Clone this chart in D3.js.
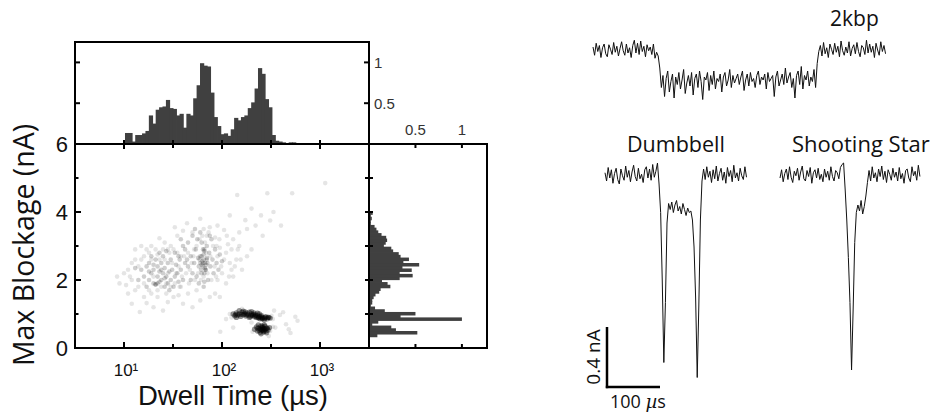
<!DOCTYPE html>
<html><head><meta charset="utf-8">
<script src="https://cdn.jsdelivr.net/npm/d3@7"></script>
<style>body{margin:0;background:#fff;} svg{display:block;}</style>
</head><body>
<svg id="c" width="936" height="415"></svg>
<script>
// ---------------- DATA ----------------
const xDomain = [3.162, 3162];            // dwell time (µs), log axis
const yDomain = [0, 6];                   // max blockage (nA)
const xMajorTicks = [10, 100, 1000];
const xMajorLabels = ['10¹', '10²', '10³'];
const xMinorTicks = [31.62, 316.2];
const yMajorTicks = [0, 2, 4, 6];
const yMinorTicks = [1, 3, 5];
const histTicks = [0.5, 1];

// top histogram (normalized counts), bins in log10(dwell)
const topHistLogStart = 1.01, topHistLogStep = 0.0348;
const topHistCounts = [0.135,0.135,0.03,0.11,0.11,0.13,0.16,0.35,0.25,0.42,0.45,0.46,0.54,0.44,0.43,0.35,0.37,0.2,0.37,0.35,0.56,0.72,0.99,0.96,0.95,0.63,0.33,0.22,0.12,0.13,0.10,0.18,0.32,0.29,0.33,0.35,0.44,0.51,0.68,0.93,0.86,0.55,0.45,0.11,0.04,0.03,0.02,0.01,0.02,0.02];

// right histogram (normalized counts), bins in blockage (nA)
const rightHistStart = 0.34, rightHistStep = 0.08;
const rightHistCounts = [0.09,0.52,0.29,0.24,0.035,0.1,1.0,0.34,0.5,0.17,0.065,0.02,0.035,0.035,0.05,0.07,0.11,0.125,0.23,0.2,0.14,0.33,0.47,0.33,0.46,0.36,0.54,0.37,0.43,0.34,0.32,0.26,0.24,0.16,0.18,0.195,0.185,0.135,0.1,0.08,0.06,0.02,0.02,0.03,0.02,0.04,0.01,0.01,0.01,0.005,0.005];

// scatter events [dwell µs, max blockage nA]
const scatterFaint = [[143,4.5],[290,4.55],[520,4.55],[1130,4.85],[173,3.76],[335,4.0],[105,3.47],[44,3.67],[23,3.23],[200,4.1],[250,3.9],[120,3.9],[90,3.6],[60,3.8],[75,3.55],[180,3.5],[400,3.6],[130,3.2],[150,3.0],[110,2.8],[260,3.3],[95,2.95],[220,3.6],[310,3.75],
[8.5,2.1],[9,1.9],[10,2.2],[11.5,2.1],[12,2.5],[13,1.7],[14.5,1.06],[17,1.32],[11,1.6],[13,2.9],[15,3.0],[12,1.3],[10.5,1.85],[16,1.5],[20,1.2],[25,1.1],[22,1.5],[32,1.5],[28,1.35],[18,2.8],[26,3.1],[35,3.3],[30,3.0],[40,1.3],[45,1.6],[50,1.2],[38,1.8],
[96,0.48],[500,0.44],[560,0.92],[390,0.97],[590,0.8],[450,0.7],[350,0.6],[420,1.05],[130,0.6],[160,1.15],[120,1.0],[110,0.85],[340,1.1],[480,0.55],[300,0.35],
[90,2.0],[100,2.2],[120,2.5],[140,2.6],[110,1.9],[85,1.6],[130,2.1],[160,2.3],[75,1.5],[200,2.9],[95,1.5],[60,1.4],[55,1.7],[180,2.7],[150,3.4],[70,3.3],[85,3.25],[50,3.4],[65,3.5],[40,3.45],[33,3.55],[28,2.9],[22,2.75],[19,2.6],[16,2.7],[14,2.4],[11,2.3],[19,1.6],[27,1.6],[36,1.55],[46,1.9],[52,2.9],[88,3.0],[115,3.05],[125,2.3],
[12,2.0],[13,2.6],[14,1.8],[15,2.6],[16,1.9],[17,2.9],[18,1.7],[19,3.0],[20,2.1],[21,2.9],[22,1.7],[23,2.6],[24,1.8],[25,2.9],[26,2.6],[27,1.9],[28,2.2],[29,2.8],[30,1.8],[31,2.5],[32,2.9],[33,1.9],[34,2.2],[35,2.8],[36,2.4],[37,1.8],[38,2.7],[39,2.1],[41,2.7],[43,2.2],[45,2.8],[47,2.3],[49,2.5],[51,2.7],[53,2.0],[55,3.0],[57,2.2],[59,3.2],[61,2.0],[63,3.3],[65,2.1],[67,3.1],[69,2.8],[71,2.2],[73,3.4],[76,2.7],[78,2.0],[81,3.0],[84,2.4],[87,2.1],[90,2.7],[94,3.2],[98,2.4],[105,2.6],[112,3.3],[118,2.1],[125,2.9],[135,2.4],[145,2.9],[155,2.6],
[150,0.95],[125,0.9],[320,0.95],[330,0.85],[200,0.75],[310,0.5],[205,0.48],[330,0.62]];
const scatterMedium = [[15,2.3],[16,2.1],[17,2.4],[18,2.0],[18,2.5],[19,2.2],[20,1.9],[20,2.3],[21,2.6],[21,1.87],[22,2.1],[22,2.4],[23,1.95],[23,2.25],[24,2.5],[24,2.0],[25,2.2],[25,2.7],[26,1.8],[26,2.35],[27,2.1],[28,2.5],[28,1.9],[29,2.25],[30,2.0],[30,2.6],[31,2.3],[32,1.8],[33,2.1],[34,2.45],[35,2.2],[36,1.95],[37,2.6],[38,2.3],[40,2.0],[17,1.8],[19,2.7],[14,2.0],[13,2.35],[42,2.5],[27,2.85],[23,2.8],[33,2.8],[20,2.45],[24,2.3],[29,1.7],[18,2.25],[26,2.05],[21,1.87],[22,1.9],
[42,2.9],[45,2.4],[45,3.1],[48,2.7],[50,2.2],[50,3.3],[52,2.5],[54,2.9],[55,2.1],[56,3.2],[58,2.4],[58,1.9],[60,2.7],[62,3.1],[62,2.2],[64,2.5],[65,1.8],[66,2.9],[68,2.3],[70,3.0],[70,2.6],[72,2.0],[74,2.8],[76,2.4],[78,3.2],[80,2.6],[82,2.2],[85,2.9],[88,2.5],[92,2.3],[95,2.75],[100,2.55],[48,2.0],[53,3.5],[60,3.4],[44,2.6],[66,1.95],[57,2.65],[75,3.3],[40,3.0],[36,2.7],[38,3.2],
[60,2.5],[62,2.7],[64,2.4],[65,2.6],[66,2.85],[67,2.5],[68,2.3],[70,2.65],[63,2.55],[61,2.3],[69,2.45],[66,2.2],[62,2.45],[65,2.75],[67,2.35],[64,2.9],[59,2.6],[71,2.5]];
const scatterDense = [[130,1.0],[135,0.95],[140,1.03],[145,0.97],[150,1.0],[155,0.93],[160,1.05],[165,0.98],[170,1.0],[175,0.94],[180,1.02],[185,0.97],[190,1.05],[195,0.92],[200,1.0],[205,0.96],[210,0.99],[215,0.92],[220,0.97],[225,0.9],[230,0.95],[235,0.88],[240,0.93],[245,0.86],[250,0.92],[255,0.88],[260,0.9],[270,0.87],[280,0.92],[290,0.86],[300,0.9],[310,0.88],[165,1.08],[200,1.07],[240,1.0],[140,0.9],[190,0.9],[270,0.82],[230,1.02],[150,1.1],
[138,0.98],[158,0.99],[178,0.98],[198,0.96],[218,0.94],[238,0.9],[258,0.86],[275,0.9],[295,0.9],[172,1.06],[212,1.03],[252,0.96],
[215,0.55],[225,0.62],[230,0.5],[240,0.58],[245,0.46],[250,0.65],[255,0.53],[260,0.6],[265,0.47],[270,0.56],[275,0.64],[280,0.5],[285,0.58],[295,0.53],[305,0.6],[250,0.42],[270,0.68],[235,0.68],[285,0.45],[260,0.52],[240,0.52],[275,0.55],[255,0.6],
[248,0.55],[262,0.56],[268,0.5],[290,0.58],[232,0.58],[258,0.64]];

// current traces, sampled every 3 µs, current change in pA
const sampleStepUs = 3;
const trace2kbp = [20,-35,45,-10,30,-50,15,40,-25,-45,35,5,-30,50,-15,25,-40,10,55,-5,-35,40,-20,15,-50,30,65,-20,45,-30,60,-10,25,-45,35,-5,20,-30,40,-55,-15,-40,
-120,
-250,-170,-310,-190,-140,-280,-210,-160,-320,-180,-230,-150,-260,-200,-130,-290,-220,-170,-240,-150,-300,-190,-160,-250,-140,-210,-330,-180,-200,-150,-270,-170,-230,-140,-260,-190,-210,-160,-280,-180,-150,-240,-200,-130,-250,-170,-220,-190,-160,-230,-180,-140,-270,-200,-160,-240,-150,-210,-190,-250,-170,-140,-230,-180,-200,-160,-260,-150,-210,-190,-170,-310,-180,-140,-240,-200,-160,-230,-120,-220,-180,-150,-250,-190,-320,-170,-140,-230,-110,-260,-170,-200,-140,-240,-180,-210,-130,-250,
-90,
-10,30,-40,50,-25,15,-50,40,5,-30,45,-15,25,-45,60,-5,-35,20,-20,55,-40,10,35,-25,50,-10,-45,30,15,-30,65,-20,40,-15,25,-50,45,0,-35,55,-10,30,-25];
const traceDumbbell = [15,-40,50,-20,35,-55,10,45,-30,-60,40,-5,-35,60,-15,30,-45,20,65,-10,-40,45,-25,5,-50,35,55,-20,40,-35,70,-15,25,80,
-60,-250,-700,-1250,-850,-320,-190,
-230,-180,-250,-200,-170,-240,-210,-260,-190,-230,-270,-220,-250,
-240,-300,-480,-820,-1350,-880,-300,-40,
40,-30,55,-15,25,-50,35,-25,60,-40,10,45,-35,20,-55,50,-10,30,-45,65,-20,15,-40,45,-5,-30,55,-15];
const traceShootingStar = [-20,35,-45,10,40,-30,55,-15,-50,25,-5,45,-35,20,60,-25,-40,30,-10,50,-55,15,35,-20,45,-30,5,-45,40,-15,25,-35,55,-10,-40,30,15,-25,50,70,
80,-100,-300,-550,-850,-1300,-900,-450,-250,-200,-240,-170,-260,-210,-140,-50,
30,-40,55,-20,15,-45,40,-10,60,-30,25,-50,35,5,-35,45,-15,20,-40,50,-25,10,-55,30,40,-20,-45,55,-5,25,-35,65,-10];
const scaleBarCurrent = 0.4;   // nA
const scaleBarTime = 100;      // µs

// ---------------- DRAWING ----------------
const svg = d3.select('#c');
const M = {l:75, r:369, t:144, b:348};
const topT = 42, rightR = 487;

const x = d3.scaleLog().domain(xDomain).range([M.l, M.r]);
const y = d3.scaleLinear().domain(yDomain).range([M.b, M.t]);
const yTop = d3.scaleLinear().domain([0, 1.25]).range([M.t, topT]);
const xRight = d3.scaleLinear().domain([0, 1.27]).range([M.r, rightR]);

const barColor = '#404040';

// top histogram
const tEdge = k => x(Math.pow(10, topHistLogStart + k*topHistLogStep));
svg.append('g').selectAll('rect').data(topHistCounts).join('rect')
  .attr('x', (v,k) => tEdge(k))
  .attr('width', (v,k) => tEdge(k+1) - tEdge(k) + 0.8)
  .attr('y', v => yTop(v))
  .attr('height', v => M.t - yTop(v))
  .attr('fill', barColor);

// right histogram
const rEdge = k => y(rightHistStart + k*rightHistStep);
svg.append('g').selectAll('rect').data(rightHistCounts).join('rect')
  .attr('x', M.r)
  .attr('y', (v,k) => rEdge(k+1))
  .attr('height', (v,k) => rEdge(k) - rEdge(k+1) + 0.8)
  .attr('width', v => xRight(v) - M.r)
  .attr('fill', barColor);

// scatter
const defs = svg.append('defs');
defs.append('clipPath').attr('id','mainClip').append('rect')
  .attr('x', M.l).attr('y', M.t).attr('width', M.r-M.l).attr('height', M.b-M.t);
defs.append('filter').attr('id','soft').append('feGaussianBlur').attr('stdDeviation', 0.6);
const sc = svg.append('g').attr('clip-path','url(#mainClip)').append('g').attr('filter','url(#soft)');
[[scatterFaint, 0.1, 2.3], [scatterMedium, 0.19, 2.3], [scatterDense, 0.42, 2.7]].forEach(([pts, op, r]) => {
  sc.append('g').selectAll('circle').data(pts).join('circle')
    .attr('cx', d => x(d[0])).attr('cy', d => y(d[1])).attr('r', r)
    .attr('fill', '#000').attr('fill-opacity', op);
});

// frames
const frame = svg.append('g').attr('fill','none').attr('stroke','#000').attr('stroke-width',2);
frame.append('rect').attr('x',M.l).attr('y',M.t).attr('width',M.r-M.l).attr('height',M.b-M.t);
frame.append('rect').attr('x',M.l).attr('y',topT).attr('width',M.r-M.l).attr('height',M.t-topT);
frame.append('rect').attr('x',M.r).attr('y',M.t).attr('width',rightR-M.r).attr('height',M.b-M.t);

// ticks
const tk = svg.append('g').attr('stroke','#000').attr('stroke-width',2);
function vtick(px, y1, y2){ tk.append('line').attr('x1',px).attr('x2',px).attr('y1',y1).attr('y2',y2); }
function htick(py, x1, x2){ tk.append('line').attr('y1',py).attr('y2',py).attr('x1',x1).attr('x2',x2); }
xMajorTicks.forEach(v => { vtick(x(v), M.b, M.b-6); vtick(x(v), M.t-4, M.t+5); });
xMinorTicks.forEach(v => { vtick(x(v), M.b, M.b-4); vtick(x(v), M.t-4, M.t+4); });
yMajorTicks.filter(v => v>0 && v<6).forEach(v => { htick(y(v), M.l, M.l+6); htick(y(v), M.r-4, M.r+4); });
yMinorTicks.forEach(v => { htick(y(v), M.l, M.l+3.5); htick(y(v), M.r-4, M.r+4); });
histTicks.forEach(v => {
  htick(yTop(v), M.l, M.l+5); htick(yTop(v), M.r, M.r-5);
  vtick(xRight(v), M.t, M.t+4); vtick(xRight(v), M.b, M.b-4);
});

// tick labels
const sans = "'Liberation Sans', Arial, sans-serif";
const open = "'Open Sans', 'Noto Sans', sans-serif";
svg.append('g').selectAll('text').data(yMajorTicks).join('text')
  .attr('x', M.l-7).attr('y', d => y(d)).attr('dy','0.36em')
  .attr('text-anchor','end').attr('font-family',sans).attr('font-size',22).attr('fill','#111')
  .text(d => d);
svg.append('g').selectAll('text').data(xMajorTicks).join('text')
  .attr('x', d => x(d) + 2).attr('y', 376).attr('text-anchor','middle')
  .attr('font-family',sans).attr('font-size',17).attr('fill','#111')
  .text((d,i) => xMajorLabels[i]);

const hl = svg.append('g').attr('font-family',sans).attr('font-size',15).attr('fill','#333');
histTicks.forEach(v => {
  hl.append('text').attr('x', M.r+5).attr('y', yTop(v)).attr('dy','0.36em').text(v);
  hl.append('text').attr('x', xRight(v)).attr('y', 135).attr('text-anchor','middle').text(v);
});

// axis titles
svg.append('text').attr('transform','translate(34,245) rotate(-90)')
  .attr('text-anchor','middle').attr('font-family',open).attr('font-size',28.5).attr('fill','#111')
  .text('Max Blockage (nA)');
svg.append('text').attr('x',233).attr('y',405)
  .attr('text-anchor','middle').attr('font-family',sans).attr('font-size',27.5).attr('fill','#111')
  .text('Dwell Time (µs)');

// ---------------- TRACES ----------------
const tScale = d3.scaleLinear().domain([0, 100]).range([0, 53]);
const iScale = d3.scaleLinear().domain([0, -0.4]).range([0, 60]);
const line = d3.line().x((v,i) => tScale(i*sampleStepUs)).y(v => iScale(v/1000));
function drawTrace(data, ox, oy){
  svg.append('path').attr('transform',`translate(${ox},${oy})`).attr('d', line(data))
    .attr('fill','none').attr('stroke','#111').attr('stroke-width',1).attr('stroke-linejoin','round');
}
drawTrace(trace2kbp, 593, 50);
drawTrace(traceDumbbell, 605, 175);
drawTrace(traceShootingStar, 780, 175);

const lab = svg.append('g').attr('font-family',open).attr('fill','#111');
lab.append('text').attr('x',830).attr('y',26).attr('font-size',21).text('2kbp');
lab.append('text').attr('x',627).attr('y',152).attr('font-size',21.5).text('Dumbbell');
lab.append('text').attr('x',792).attr('y',152).attr('font-size',22).text('Shooting Star');

// scale bar
const sbX = 607, sbY = 387;
const sb = svg.append('g').attr('stroke','#000').attr('stroke-width',2.5).attr('fill','none');
sb.append('line').attr('x1',sbX).attr('x2',sbX).attr('y1',sbY+1.2).attr('y2',sbY - iScale(-scaleBarCurrent));
sb.append('line').attr('x1',sbX-1.2).attr('x2',sbX + tScale(scaleBarTime)).attr('y1',sbY).attr('y2',sbY);
lab.append('text').attr('transform',`translate(600,${sbY - iScale(-scaleBarCurrent)/2}) rotate(-90)`)
  .attr('text-anchor','middle').attr('font-size',19).text('0.4 nA');
const tl = lab.append('text').attr('x',610).attr('y',408).attr('font-size',18);
tl.append('tspan').text('100 ');
tl.append('tspan').attr('font-style','italic').attr('font-family',"'DejaVu Serif', serif").text('µ');
tl.append('tspan').text('s');
</script>
</body></html>
